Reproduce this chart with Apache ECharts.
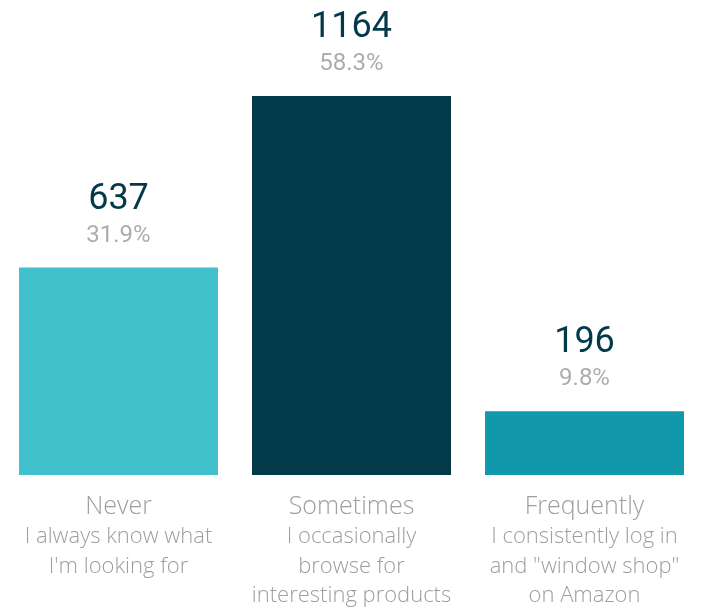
<!DOCTYPE html>
<html>
<head>
<meta charset="utf-8">
<script src="https://cdn.jsdelivr.net/npm/echarts@6/dist/echarts.min.js"></script>
<style>
  html, body { margin: 0; padding: 0; background: #ffffff; }
  #chart { width: 701px; height: 608px; }
</style>
</head>
<body>
<div id="chart"></div>
<script>
var categories = ['Never', 'Sometimes', 'Frequently'];
var subtitles = [
  'I always know what\nI\'m looking for',
  'I occasionally\nbrowse for\ninteresting products',
  'I consistently log in\nand "window shop"\non Amazon'
];
var counts = [637, 1164, 196];
var percents = ['31.9%', '58.3%', '9.8%'];
var barColors = ['#40C1CC', '#023A4A', '#1199AB'];

var chart = echarts.init(document.getElementById('chart'), null, { renderer: 'canvas' });

var option = {
  backgroundColor: '#ffffff',
  animation: false,
  grid: { left: 2, width: 703, top: 96, bottom: 133, containLabel: false },
  xAxis: {
    type: 'category',
    data: categories,
    axisLine: { show: false },
    axisTick: { show: false },
    axisLabel: {
      interval: 0,
      margin: 16,
      formatter: function (v, i) {
        var subs = subtitles[i].split('\n').map(function (s) { return '{s|' + s + '}'; }).join('\n');
        return '{t|' + v + '}\n' + subs;
      },
      rich: {
        t: { fontFamily: 'Open Sans', fontWeight: 300, fontSize: 25, lineHeight: 31, color: '#9E9E9E', align: 'center' },
        s: { fontFamily: 'Open Sans', fontWeight: 300, fontSize: 22, lineHeight: 29.5, color: '#9E9E9E', align: 'center' }
      }
    }
  },
  yAxis: {
    type: 'value',
    min: 0,
    max: 1164,
    show: false,
    splitLine: { show: false }
  },
  series: [{
    type: 'bar',
    barWidth: 199,
    data: counts.map(function (v, i) {
      return { value: v, itemStyle: { color: barColors[i] } };
    }),
    label: {
      show: true,
      position: 'top',
      distance: 16,
      formatter: function (p) {
        return '{n|' + counts[p.dataIndex] + '}\n{p|' + percents[p.dataIndex] + '}';
      },
      rich: {
        n: { fontFamily: 'Roboto', fontSize: 36, lineHeight: 40, color: '#023A4A', align: 'center' },
        p: { fontFamily: 'Roboto', fontSize: 24, lineHeight: 32, color: '#ADADAD', align: 'center' }
      }
    }
  }]
};

chart.setOption(option);
</script>
</body>
</html>
